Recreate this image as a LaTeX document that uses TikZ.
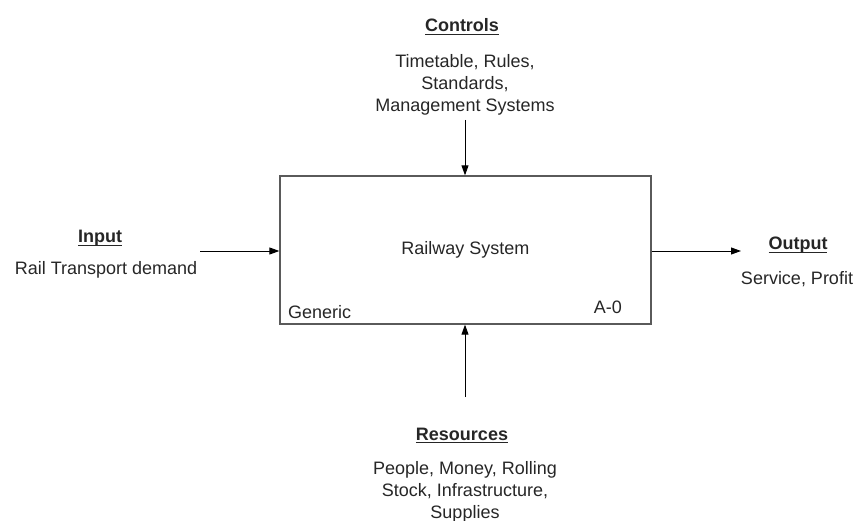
\documentclass[tikz,border=0pt]{standalone}
\usepackage{fontspec}
\setmainfont{Liberation Sans}
\usetikzlibrary{arrows.meta}
\definecolor{inkgrey}{HTML}{262626}
\definecolor{boxgrey}{HTML}{5A5A5A}
% bold heading with a close-set underline
\newcommand{\ulhead}[1]{\setbox0\hbox{\textbf{#1}}\rlap{\vrule width\wd0 height -1.8pt depth 3.3pt}\box0}
\begin{document}
\begin{tikzpicture}[x=1pt,y=-1pt,
  every node/.style={inner sep=0pt,text=inkgrey,font=\fontsize{18}{22}\selectfont},
  mainbox/.style={draw=boxgrey,line width=1.3pt,minimum width=371pt,minimum height=148pt},
  heading/.style={anchor=base},
  body/.style={align=center},
  flow/.style={draw=black,line width=0.9pt,-{Triangle[length=10pt,width=7pt]}}]
  \useasboundingbox (0,0) rectangle (856,521);
  % central activity box
  \node[mainbox] (sys) at (465.5,250) {Railway System};
  \node[anchor=base west] (gen) at (288,318) {Generic};
  \node[anchor=base east] (code) at (622,313) {A-0};
  % controls (top)
  \node[heading] (ctrlh) at (462,32) {\ulhead{Controls}};
  \node[body,anchor=north] (ctrlb) at (465,54) {Timetable, Rules,\\Standards,\\Management Systems};
  % input (left)
  \node[heading] (inph) at (100,243) {\ulhead{Input}};
  \node[anchor=base] (inpb) at (106,274) {Rail Transport demand};
  % output (right)
  \node[heading] (outh) at (798,250) {\ulhead{Output}};
  \node[anchor=base] (outb) at (797,284) {Service, Profit};
  % resources (bottom)
  \node[heading] (resh) at (462,440) {\ulhead{Resources}};
  \node[body,anchor=north] (resb) at (465,461) {People, Money, Rolling\\Stock, Infrastructure,\\Supplies};
  % arrow ends
  \coordinate (cin) at (465,120);
  \coordinate (rin) at (465,397);
  \coordinate (iin) at (200,251);
  \coordinate (oout) at (741,251);
  \draw[flow] (cin) -- (cin |- sys.north);
  \draw[flow] (rin) -- (rin |- sys.south);
  \draw[flow] (iin) -- (iin -| sys.west);
  \draw[flow] (oout -| sys.east) -- (oout);
\end{tikzpicture}
\end{document}
